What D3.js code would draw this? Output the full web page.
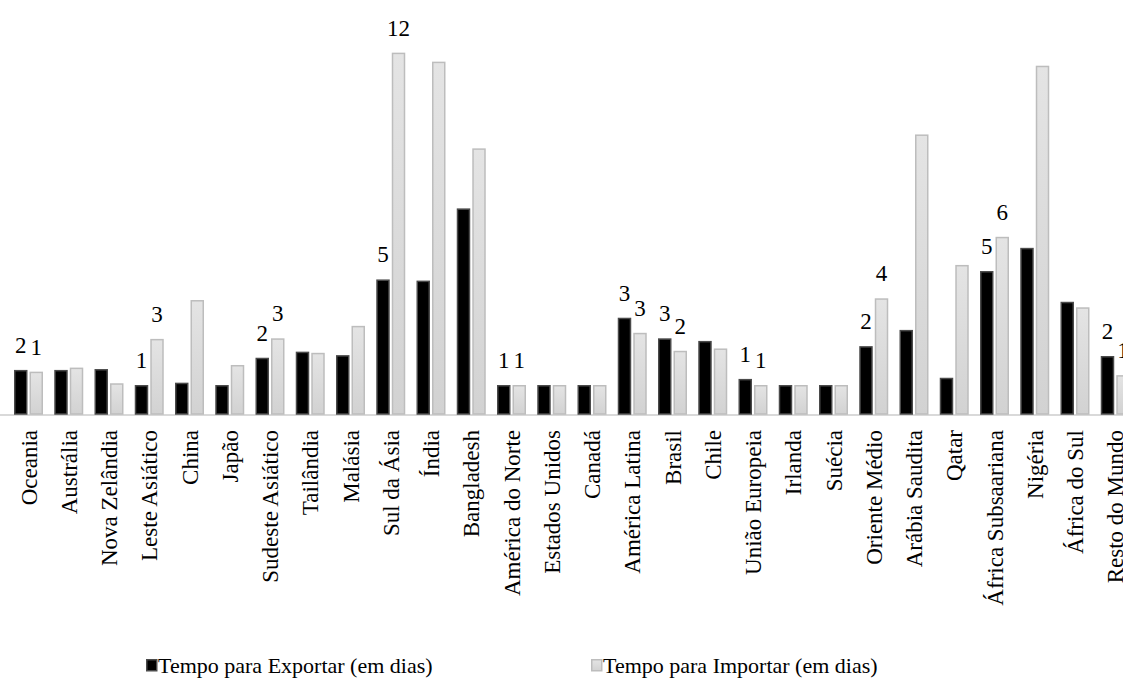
<!DOCTYPE html>
<html>
<head>
<meta charset="utf-8">
<script src="https://cdn.jsdelivr.net/npm/d3@7"></script>
<style>
  html, body { margin: 0; padding: 0; background: #ffffff; overflow: hidden; }
  #chart text { font-family: "Liberation Serif", "Tinos", "Times New Roman", serif; }
</style>
</head>
<body>
<svg id="chart" width="1123" height="684"></svg>
<script>
// Regions and countries, in display order
const categories = [
  "Oceania", "Austrália", "Nova Zelândia", "Leste Asiático", "China", "Japão",
  "Sudeste Asiático", "Tailândia", "Malásia", "Sul da Ásia", "Índia", "Bangladesh",
  "América do Norte", "Estados Unidos", "Canadá", "América Latina", "Brasil", "Chile",
  "União Europeia", "Irlanda", "Suécia", "Oriente Médio", "Arábia Saudita", "Qatar",
  "África Subsaariana", "Nigéria", "África do Sul", "Resto do Mundo"
];

// Time to export (days)
const exportar = [
  1.52, 1.52, 1.55, 1.00, 1.08, 1.00,
  1.94, 2.15, 2.03, 4.64, 4.60, 7.09,
  1.00, 1.00, 1.00, 3.32, 2.61, 2.52,
  1.21, 1.00, 1.00, 2.34, 2.90, 1.25,
  4.93, 5.73, 3.87, 2.00
];

// Time to import (days)
const importar = [
  1.46, 1.60, 1.06, 2.59, 3.93, 1.69,
  2.61, 2.11, 3.04, 12.46, 12.15, 9.16,
  1.00, 1.00, 1.00, 2.80, 2.18, 2.26,
  1.00, 1.00, 1.00, 3.99, 9.64, 5.14,
  6.11, 12.01, 3.68, 1.34
];

// Aggregate regions that carry value labels
const labelled = [
  "Oceania", "Leste Asiático", "Sudeste Asiático", "Sul da Ásia", "América do Norte",
  "América Latina", "Brasil", "União Europeia", "Oriente Médio", "África Subsaariana",
  "Resto do Mundo"
];

const seriesNames = ["Tempo para Exportar (em dias)", "Tempo para Importar (em dias)"];
const seriesKeys = ["exp", "imp"];

const rows = categories.map((c, i) => ({ cat: c, exp: exportar[i], imp: importar[i] }));

const svg = d3.select("#chart");

const defs = svg.append("defs");
const grad = defs.append("linearGradient")
  .attr("id", "impFill").attr("x1", 0).attr("y1", 0).attr("x2", 0).attr("y2", 1);
grad.append("stop").attr("offset", "0%").attr("stop-color", "#e4e4e4");
grad.append("stop").attr("offset", "100%").attr("stop-color", "#d2d2d2");

const baseY = 414;
const x0 = d3.scaleBand()
  .domain(categories)
  .range([8.4, 8.4 + 28 * 40.25])
  .paddingInner(0).paddingOuter(0);

const x1 = d3.scaleBand()
  .domain(seriesKeys)
  .range([5.6, 34.6])
  .paddingInner(0.13);

const y = d3.scaleLinear().domain([0, 14]).range([baseY, baseY - 14 * 29]);

const styles = {
  exp: { fill: "#000000", stroke: "#4a4a4a" },
  imp: { fill: "url(#impFill)", stroke: "#bdbdbd" }
};

// Category axis baseline
svg.append("line")
  .attr("x1", 0).attr("x2", 1123)
  .attr("y1", baseY + 1).attr("y2", baseY + 1)
  .attr("stroke", "#d9d9d9").attr("stroke-width", 2);

const groups = svg.append("g").selectAll("g")
  .data(rows).join("g")
  .attr("transform", d => `translate(${x0(d.cat)},0)`);

groups.selectAll("rect")
  .data(d => seriesKeys.map(k => ({ key: k, value: d[k] })))
  .join("rect")
  .attr("x", d => x1(d.key) + 0.75)
  .attr("y", d => y(d.value) + 0.75)
  .attr("width", x1.bandwidth() - 1.5)
  .attr("height", d => y(0) - y(d.value) - 0.75)
  .attr("fill", d => styles[d.key].fill)
  .attr("stroke", d => styles[d.key].stroke)
  .attr("stroke-width", 1.5);

// Value labels for aggregate regions
const fmt = d3.format(".0f");
groups.filter(d => labelled.includes(d.cat))
  .selectAll("text.val")
  .data(d => seriesKeys.map(k => ({ key: k, value: d[k] })))
  .join("text")
  .attr("class", "val")
  .attr("x", d => x1(d.key) + x1.bandwidth() / 2)
  .attr("y", d => y(d.value) - 17)
  .attr("text-anchor", "middle")
  .attr("font-size", 23)
  .attr("fill", "#000")
  .text(d => fmt(d.value));

// Rotated category labels
const xAxis = d3.axisBottom(x0).tickSize(0).tickPadding(0);
const axisG = svg.append("g").attr("transform", `translate(0,${baseY})`).call(xAxis);
axisG.select(".domain").remove();
axisG.attr("font-size", 23).attr("font-family", null);
axisG.selectAll("text")
  .attr("fill", "#000")
  .attr("text-anchor", "end")
  .attr("transform", "translate(0,16) rotate(-90)")
  .attr("x", 0)
  .attr("y", 0)
  .attr("dy", "0.35em");

// Legend
const legendX = [146, 591];
const legend = svg.append("g").selectAll("g")
  .data(seriesKeys).join("g")
  .attr("transform", (d, i) => `translate(${legendX[i]},659)`);
legend.append("rect")
  .attr("x", 0.75).attr("y", 0.75)
  .attr("width", 10).attr("height", 11)
  .attr("fill", d => styles[d].fill)
  .attr("stroke", d => styles[d].stroke)
  .attr("stroke-width", 1.5);
legend.append("text")
  .attr("x", 12).attr("y", 14)
  .attr("font-size", 22)
  .attr("fill", "#000")
  .text((d, i) => seriesNames[i]);
</script>
</body>
</html>
